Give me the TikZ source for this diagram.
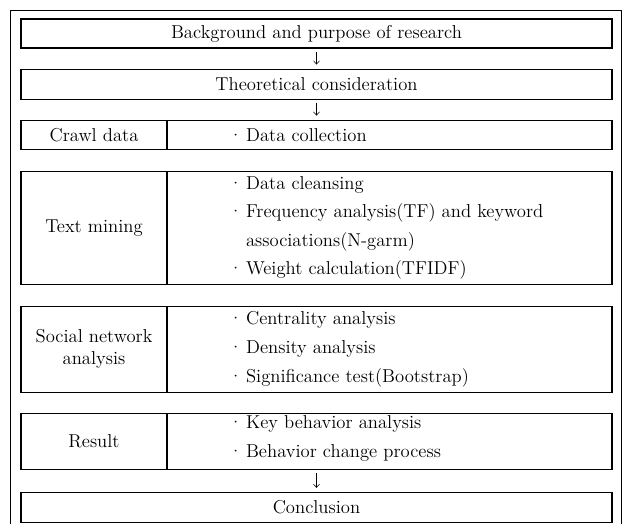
\documentclass[tikz,border=0pt]{standalone}
\usepackage{tikz}
\usetikzlibrary{arrows.meta}
\usetikzlibrary{positioning}
\tikzstyle{bigbox} = [rectangle, draw, line width=0.8pt, minimum width=443.25pt, inner sep=0pt, text centered]
\tikzstyle{cell} = [rectangle, draw, line width=0.8pt, minimum width=109.5pt, inner sep=0pt, align=center, anchor=west]
\tikzstyle{items} = [inner sep=0pt, align=left, anchor=west]
\tikzstyle{line} = [draw, line width=0.4pt, -{Straight Barb[length=2.5pt,width=4.5pt]}, shorten <=2.25pt, shorten >=3pt]

\begin{document}
\begin{tikzpicture}[every node/.style={font=\fontsize{14}{21.4}\selectfont}]
    \useasboundingbox (0,0) rectangle (467.25pt,-393pt);
    % Outer frame
    \draw[line width=0.6pt] (7.5pt,-393pt) |- (465.75pt,-7.5pt) -- (465.75pt,-393pt);

    % Place nodes
    \node [bigbox, minimum height=21.75pt] (background) at (237.375pt,-25.125pt) {Background and purpose of research};
    \node [bigbox, minimum height=22.5pt, below=15pt of background] (theory) {Theoretical consideration};
    \node [bigbox, minimum height=21.75pt, below=15pt of theory] (crawl) {};
    \node [bigbox, minimum height=84.75pt, below=15.75pt of crawl] (textmine) {};
    \node [bigbox, minimum height=64.5pt, below=15.75pt of textmine] (sna) {};
    \node [bigbox, minimum height=42pt, below=15pt of sna] (result) {};
    \node [bigbox, minimum height=22.5pt, below=16.5pt of result] (conclusion) {Conclusion};

    \node [cell, minimum height=21.75pt] (crawllbl) at (crawl.west) {Crawl data};
    \node [cell, minimum height=84.75pt] (textlbl) at (textmine.west) {Text mining};
    \node [cell, minimum height=64.5pt, font=\fontsize{14}{16.5}\selectfont] (snalbl) at (sna.west) {Social network\\analysis};
    \node [cell, minimum height=42pt] (resultlbl) at (result.west) {Result};

    \node [items] (crawlitems) at ([xshift=156pt]crawl.west) {\textperiodcentered\,Data collection};
    \node [items] (textitems) at ([xshift=156pt]textmine.west) {\textperiodcentered\,Data cleansing\\
        \textperiodcentered\,Frequency analysis(TF) and keyword\\
        \phantom{\textperiodcentered\,}associations(N-garm)\\
        \textperiodcentered\,Weight calculation(TFIDF)};
    \node [items] (snaitems) at ([xshift=156pt]sna.west) {\textperiodcentered\,Centrality analysis\\
        \textperiodcentered\,Density analysis\\
        \textperiodcentered\,Significance test(Bootstrap)};
    \node [items] (resultitems) at ([xshift=156pt,yshift=2pt]result.west) {\textperiodcentered\,Key behavior analysis\\
        \textperiodcentered\,Behavior change process};

    % Draw edges
    \path [line] (background) -- (theory);
    \path [line] (theory) -- (crawl);
    \path [line] (result) -- (conclusion);
\end{tikzpicture}
\end{document}
